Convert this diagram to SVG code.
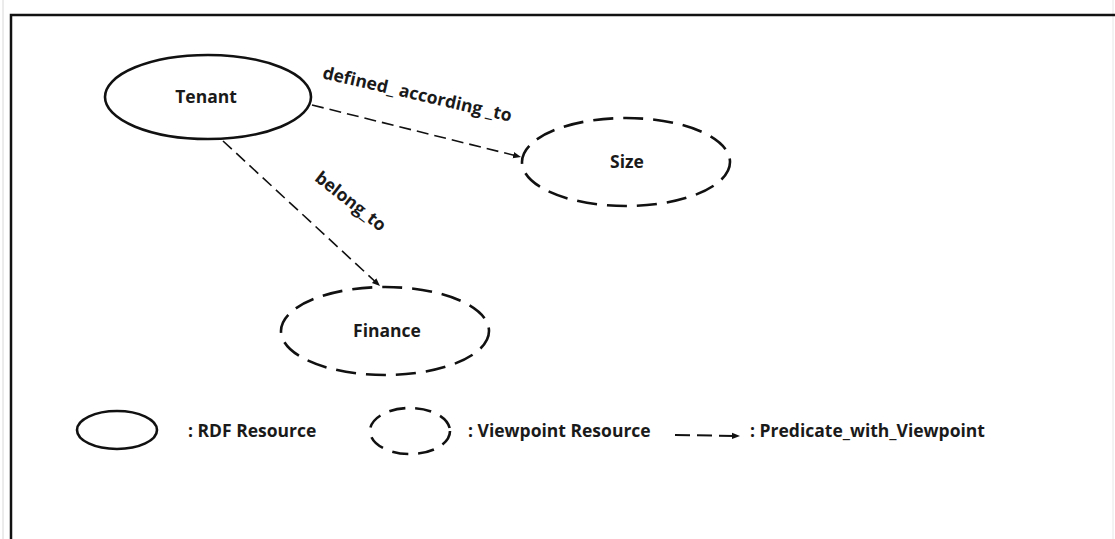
<svg xmlns="http://www.w3.org/2000/svg" width="1115" height="539" viewBox="0 0 1115 539">
  <style>
    .lbl { font-family: "Open Sans", "Liberation Sans", sans-serif; font-weight: bold; font-size: 17.5px; fill: #1a1a1a; }
    .res { fill: #ffffff; stroke: #111111; stroke-width: 2.6; }
    .vp { fill: #ffffff; stroke: #111111; stroke-width: 2.6; stroke-dasharray: 20 10; }
    .pred { fill: none; stroke: #111111; stroke-width: 1.6; stroke-dasharray: 12 6; }
  </style>
  <defs>
    <marker id="arrow" viewBox="0 0 10 10" refX="10" refY="5" markerWidth="8" markerHeight="8" orient="auto" markerUnits="userSpaceOnUse">
      <path d="M0,1 L10,5 L0,9 Z" fill="#111111"/>
    </marker>
  </defs>

  <!-- page background and frame -->
  <rect x="0" y="0" width="1115" height="539" fill="#ffffff"/>
  <line x1="3" y1="0" x2="3" y2="539" stroke="#d8d8d8" stroke-width="1"/>
  <line x1="1113" y1="0" x2="1113" y2="539" stroke="#e6e6e6" stroke-width="1"/>
  <path d="M11,539 L11,15 L1115,15" fill="none" stroke="#111111" stroke-width="2.5"/>

  <!-- connectors -->
  <g id="connectors">
    <line class="pred" x1="312" y1="105" x2="521" y2="157" marker-end="url(#arrow)"/>
    <text class="lbl" transform="translate(416,100) rotate(13)" text-anchor="middle">defined_ according _to</text>
    <line class="pred" x1="223" y1="141" x2="380" y2="286" marker-end="url(#arrow)"/>
    <text class="lbl" transform="translate(347,206) rotate(38)" text-anchor="middle">belong_to</text>
  </g>

  <!-- nodes -->
  <g id="tenant">
    <ellipse class="res" cx="208" cy="97" rx="103" ry="42"/>
    <text class="lbl" x="206" y="103" text-anchor="middle">Tenant</text>
  </g>
  <g id="size">
    <ellipse class="vp" cx="626" cy="162" rx="104" ry="44"/>
    <text class="lbl" x="627" y="168" text-anchor="middle">Size</text>
  </g>
  <g id="finance">
    <ellipse class="vp" cx="385" cy="331" rx="104" ry="44"/>
    <text class="lbl" x="387" y="337" text-anchor="middle">Finance</text>
  </g>

  <!-- legend -->
  <g id="legend-rdf">
    <ellipse class="res" cx="117" cy="430" rx="40" ry="19"/>
    <text class="lbl" x="188" y="437">: RDF Resource</text>
  </g>
  <g id="legend-viewpoint">
    <ellipse class="vp" cx="410" cy="431" rx="40" ry="23" style="stroke-dasharray: 16 10"/>
    <text class="lbl" x="468" y="437">: Viewpoint Resource</text>
  </g>
  <g id="legend-predicate">
    <line class="pred" x1="675" y1="435" x2="740" y2="436" marker-end="url(#arrow)" style="stroke-dasharray: 15 7; stroke-width: 2"/>
    <text class="lbl" x="750" y="437">: Predicate_with_Viewpoint</text>
  </g>
</svg>
